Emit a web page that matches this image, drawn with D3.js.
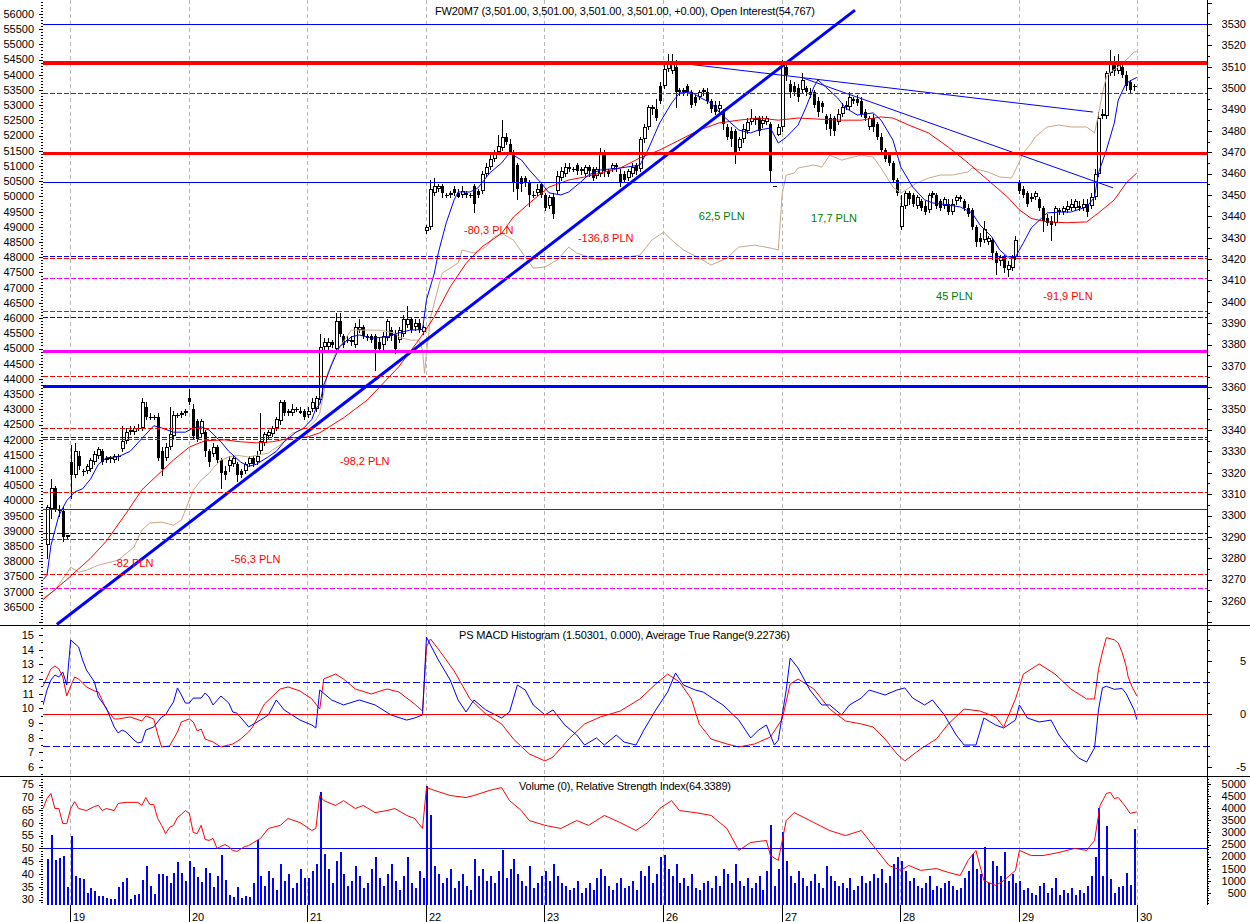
<!DOCTYPE html>
<html><head><meta charset="utf-8">
<script src="https://cdn.jsdelivr.net/npm/d3@7"></script>
<style>
body{margin:0;background:#fff;}
svg{display:block;}
text{font-family:"Liberation Sans",Arial,sans-serif;font-size:11px;fill:#000;}
</style></head><body>
<svg id="c" width="1250" height="922"></svg>
<script>
// ---------------- DATA ----------------
const dayLabels = ["19","20","21","22","23","26","27","28","29","30"];
const dayStart = [6,36,66,96,126,156,186,216,246,276];

// OHLC per bar [open, high, low, close]
const candlesPre = [[3286,3305,3280,3304],[3303,3317,3299,3313],[3313,3314,3302,3303],[3303,3305,3300,3302],[3302,3304,3288,3290],[3290,3291,3289,3291]];
const candles19 = [[3325,3333,3308,3319],[3319,3334,3318,3330],[3328,3330,3322,3323],[3321,3322,3319,3321],[3321,3324,3320,3323],
[3322,3327,3321,3326],[3325,3330,3324,3329],[3328,3332,3327,3331],[3330,3331,3324,3325],[3326,3328,3325,3327],
[3327,3328,3325,3327],[3326,3329,3325,3328],[3328,3329,3326,3328],[3331,3342,3330,3335],[3335,3341,3334,3339],
[3339,3342,3338,3340],[3339,3342,3338,3341],[3341,3343,3340,3341],[3341,3355,3340,3353],[3351,3353,3345,3346],
[3346,3348,3345,3346],[3346,3347,3345,3346],[3346,3348,3326,3327],[3330,3332,3319,3322],[3327,3334,3326,3332],
[3332,3351,3331,3338],[3337,3349,3336,3347],[3347,3348,3346,3347],[3347,3349,3346,3348],[3348,3350,3347,3349]];
const candles20 = [[3355,3359,3352,3353],[3350,3352,3336,3337],[3344,3345,3335,3336],[3338,3345,3337,3344],[3339,3340,3328,3330],
[3330,3331,3323,3325],[3329,3334,3328,3332],[3332,3333,3325,3326],[3326,3327,3313,3320],[3321,3323,3317,3319],
[3323,3328,3321,3326],[3324,3328,3323,3327],[3324,3325,3316,3319],[3321,3322,3318,3319],[3321,3325,3320,3324],
[3324,3328,3323,3327],[3327,3328,3323,3324],[3325,3330,3324,3328],[3330,3348,3329,3335],[3334,3339,3333,3338],
[3337,3340,3336,3339],[3338,3342,3337,3341],[3341,3346,3340,3345],[3344,3354,3343,3353],[3353,3354,3347,3348],
[3348,3350,3347,3349],[3348,3352,3347,3350],[3350,3351,3349,3350],[3349,3351,3348,3348],[3349,3350,3345,3346]];
const candles21 = [[3347,3351,3346,3349],[3350,3355,3349,3353],[3350,3356,3349,3355],[3354,3385,3353,3379],[3379,3383,3377,3381],
[3379,3383,3378,3381],[3381,3382,3379,3380],[3378,3395,3377,3391],[3391,3395,3384,3385],[3384,3385,3379,3380],
[3382,3384,3381,3382],[3381,3384,3380,3382],[3380,3390,3379,3388],[3387,3392,3386,3388],[3388,3389,3383,3384],
[3384,3385,3382,3383],[3384,3385,3381,3382],[3384,3385,3368,3378],[3381,3383,3377,3378],[3380,3386,3378,3384],
[3383,3392,3382,3391],[3387,3388,3382,3384],[3385,3387,3376,3378],[3382,3388,3381,3387],[3385,3394,3384,3392],
[3389,3398,3388,3392],[3392,3393,3386,3387],[3388,3392,3387,3390],[3390,3392,3386,3387],[3386,3389,3385,3388]];
const candles22 = [[3433,3436,3432,3435],[3435,3457,3434,3453],[3451,3458,3450,3454],[3453,3455,3452,3454],[3454,3455,3449,3451],
[3450,3451,3449,3450],[3450,3452,3449,3451],[3453,3454,3450,3451],[3451,3453,3449,3449],[3450,3454,3449,3452],
[3451,3452,3449,3450],[3450,3451,3449,3450],[3454,3455,3442,3446],[3452,3453,3449,3450],[3452,3461,3451,3460],
[3460,3465,3459,3463],[3463,3469,3462,3467],[3467,3471,3466,3470],[3470,3478,3469,3473],[3472,3485,3471,3477],
[3477,3479,3474,3475],[3474,3476,3469,3470],[3470,3471,3452,3456],[3464,3465,3448,3453],[3458,3459,3452,3455],
[3458,3459,3454,3456],[3456,3457,3445,3450],[3450,3452,3449,3450],[3451,3455,3450,3453],[3455,3456,3449,3450]];
const candles23 = [[3450,3451,3443,3444],[3445,3450,3444,3449],[3449,3451,3439,3441],[3452,3461,3451,3459],[3458,3463,3457,3461],
[3460,3465,3459,3463],[3463,3465,3461,3462],[3462,3463,3461,3462],[3464,3465,3460,3461],[3461,3463,3460,3462],
[3460,3464,3459,3463],[3463,3464,3459,3461],[3462,3463,3457,3458],[3459,3463,3458,3462],[3460,3472,3459,3470],
[3470,3471,3459,3461],[3461,3462,3459,3460],[3462,3465,3461,3464],[3464,3465,3461,3463],[3460,3462,3454,3456],
[3460,3461,3456,3457],[3458,3462,3457,3461],[3460,3465,3459,3463],[3464,3465,3460,3461],[3462,3477,3461,3476],
[3476,3483,3475,3482],[3482,3492,3481,3491],[3490,3492,3488,3491],[3490,3495,3485,3486],[3501,3503,3493,3494]];
const candles26 = [[3501,3511,3500,3509],[3509,3516,3508,3512],[3508,3516,3507,3512],[3510,3513,3491,3498],[3499,3500,3497,3498],
[3498,3500,3497,3499],[3501,3502,3497,3498],[3498,3499,3491,3492],[3496,3497,3492,3493],[3496,3499,3495,3498],
[3498,3500,3497,3499],[3498,3500,3493,3494],[3494,3495,3489,3490],[3492,3494,3488,3489],[3490,3494,3489,3492],
[3489,3490,3481,3483],[3482,3483,3476,3477],[3480,3482,3473,3476],[3480,3481,3465,3470],[3472,3477,3471,3476],
[3476,3483,3475,3481],[3480,3486,3479,3484],[3484,3490,3483,3486],[3485,3487,3483,3486],[3486,3487,3478,3480],
[3483,3487,3482,3485],[3484,3487,3483,3486],[3483,3484,3456,3461],[3454,3454,3454,3454],[3478,3483,3478,3482]];
const candles27 = [[3482,3513,3480,3511],[3510,3512,3504,3506],[3502,3504,3496,3498],[3501,3503,3497,3498],[3500,3502,3494,3496],
[3499,3507,3498,3504],[3500,3501,3497,3498],[3498,3500,3496,3497],[3498,3499,3491,3492],[3494,3496,3487,3489],
[3493,3494,3489,3491],[3487,3488,3481,3483],[3486,3488,3478,3481],[3486,3487,3478,3480],[3484,3490,3483,3488],
[3488,3493,3487,3491],[3491,3494,3490,3492],[3491,3498,3490,3496],[3495,3496,3493,3494],[3495,3497,3492,3493],
[3494,3496,3487,3488],[3489,3490,3485,3486],[3482,3487,3481,3486],[3486,3488,3480,3482],[3483,3484,3476,3477],
[3477,3479,3470,3471],[3471,3472,3466,3467],[3469,3470,3464,3465],[3465,3466,3456,3457],[3457,3458,3450,3451]];
const candles28 = [[3435,3450,3434,3445],[3445,3452,3444,3451],[3451,3452,3446,3448],[3450,3451,3445,3446],[3445,3450,3444,3449],
[3447,3448,3443,3444],[3445,3447,3441,3442],[3443,3451,3442,3450],[3450,3452,3449,3451],[3450,3451,3444,3445],
[3447,3448,3443,3444],[3445,3449,3444,3448],[3446,3448,3441,3442],[3442,3448,3441,3446],[3447,3450,3446,3449],
[3449,3450,3447,3448],[3447,3448,3443,3444],[3444,3446,3440,3441],[3443,3444,3434,3435],[3435,3436,3426,3428],
[3430,3432,3426,3428],[3429,3438,3428,3434],[3428,3431,3427,3430],[3429,3430,3420,3423],[3423,3424,3413,3418],
[3419,3422,3417,3421],[3421,3422,3414,3416],[3415,3419,3412,3417],[3416,3422,3415,3421],[3421,3431,3420,3429]];
const candles29 = [[3456,3457,3451,3452],[3453,3454,3449,3450],[3451,3452,3445,3446],[3448,3451,3447,3449],[3449,3452,3448,3451],
[3448,3449,3443,3444],[3444,3445,3433,3438],[3439,3441,3436,3437],[3438,3440,3429,3436],[3437,3445,3436,3444],
[3443,3444,3441,3442],[3442,3445,3441,3444],[3443,3447,3442,3445],[3444,3448,3443,3446],[3444,3448,3443,3447],
[3445,3447,3443,3444],[3444,3448,3443,3446],[3446,3448,3440,3442],[3445,3451,3444,3449],[3449,3462,3448,3460],
[3460,3489,3459,3486],[3487,3490,3486,3488],[3487,3508,3486,3507],[3507,3518,3506,3512],[3511,3515,3506,3508],
[3508,3516,3507,3511],[3510,3512,3505,3506],[3506,3508,3499,3501],[3503,3504,3498,3499],[3501,3502,3499,3501]];

// volume per bar
const volPre = [1900,2890,1860,1940,2020,740];
const vol19 = [2850,1200,1110,1070,500,700,580,370,370,290,250,250,740,950,1110,250,410,450,1030,1610,780,450,1280,1280,1200,910,1320,1780,1320,990];
const vol20 = [1820,1570,1160,950,1530,1320,740,1200,2060,1030,410,330,740,290,370,330,900,2680,1200,800,1400,1100,600,1700,1000,1300,700,900,1500,1100];
const vol21 = [1100,1400,1700,4660,2100,1500,900,1800,2200,1300,800,1000,1600,1200,700,900,1500,2000,1100,800,1300,1700,1000,600,1200,2000,900,700,1400,1100];
const vol22 = [4900,3700,1600,1300,900,1100,1500,700,1000,1300,800,600,1900,1200,1500,1000,1200,900,1400,2270,1100,1500,1900,1300,1000,800,1600,700,900,1200];
const vol23 = [1400,1000,1700,1200,900,800,600,700,1000,500,700,900,600,1100,1500,1200,800,600,900,1100,700,800,1000,600,1400,1200,1600,900,1300,2000];
const vol26 = [2060,1500,1200,1700,900,1100,800,1300,700,600,900,1000,700,1200,800,1500,1300,900,1700,1000,800,1100,700,900,1200,600,1400,3300,800,1500];
const vol27 = [3000,1800,1200,900,1400,1100,800,1000,1300,900,700,1600,1200,1000,800,900,700,1100,600,800,1200,900,1000,1300,1100,1500,900,1200,1700,2000];
const vol28 = [1800,1400,1000,1100,800,700,900,1200,600,800,700,900,1000,800,600,700,1100,1400,2100,1500,1300,2400,900,1800,1600,1200,2200,1000,1300,900];
const vol29 = [1000,600,700,500,400,800,900,500,700,1100,400,600,500,700,400,600,500,800,1200,2000,4000,1200,3260,1070,500,740,780,1320,820,3140];

// line series: [bar index, value]
const fastMA = [[-1,3270],[0,3272],[1,3286],[3,3300],[5,3307],[7,3311],[9,3312.5],[11,3317],[13,3324],[15,3327],[18,3327.5],[21,3330],[24,3336],[27,3342],[29,3341],[32,3339],[35,3339],[37,3341],[39,3341.5],[41,3340],[44,3334.5],[46,3330],[49,3325],[51,3323],[53,3324],[56,3327.5],[58,3330],[60,3334.5],[63,3339],[65,3341],[67,3345],[68,3350],[69,3352],[70,3361],[72,3370.5],[74,3379],[77,3383.6],[79,3384.5],[82,3383],[86,3383.6],[89,3385.5],[92,3386.8],[95,3387],[96,3401],[98,3413.5],[99,3423],[101,3437],[103,3447.7],[104,3451.4],[107,3451.4],[109,3453.3],[112,3460.3],[115,3465],[117,3469.6],[120,3466.4],[122,3461.7],[125,3455.6],[127,3451],[130,3450],[132,3451.4],[135,3456],[137,3459.4],[140,3461.7],[145,3462.6],[150,3464],[152,3471],[155,3483.7],[158,3493],[160,3497.7],[163,3498.2],[165,3495.8],[168,3493],[170,3488.8],[173,3483.7],[175,3480.4],[178,3479],[180,3480.4],[183,3481.3],[185,3474.3],[187,3477],[190,3482.7],[192,3491],[194,3500.5],[195,3503.8],[197,3500.5],[200,3495.4],[202,3490.7],[205,3487.4],[209,3488.4],[211,3485],[214,3475.7],[216,3463],[219,3453.7],[222,3447.7],[224,3446.3],[228,3445.3],[231,3444.4],[234,3441.6],[236,3436],[239,3430.4],[241,3424.3],[243,3421],[245,3421],[247,3427.6],[249,3434.6],[253,3441.6],[256,3442],[259,3442],[263,3444.4],[265,3449],[266,3460.3],[268,3471],[270,3483.7],[271,3494.4],[273,3502.4],[275.7,3505]];
const slowMA = [[-1,3260.6],[5,3270],[8,3275],[11,3280],[15,3288],[20,3301],[24,3312],[28,3319],[32,3326],[36,3332],[40,3335],[45,3335.4],[49,3334.5],[53,3334],[57,3334.5],[62,3336.4],[66,3336.8],[69,3338.7],[75,3345.7],[81,3354],[89,3369.6],[94,3382],[98,3393],[102,3407],[106,3418],[110,3425.7],[115,3432],[118,3439.7],[123,3447.7],[127,3453.7],[132,3457],[136,3458.4],[140,3460.3],[145,3462.6],[150,3467.3],[155,3471],[160,3475.7],[165,3480.4],[170,3483.7],[175,3485],[180,3486],[185,3485],[190,3486],[195,3485.5],[201,3485],[206,3485],[211,3486.5],[214,3486],[218,3482.7],[223,3479],[228,3472.4],[233,3465],[238,3457],[243,3449],[246,3443],[249,3439],[253,3437.4],[258,3437],[263,3437.4],[266,3441.6],[270,3447.7],[273,3455.6],[275.7,3460.3]];
const openInterest = [[-1,36790],[2,37050],[5,37610],[6,37810],[8,37645],[10,37710],[13,37875],[18,38040],[22,38470],[24,39030],[26,39260],[29,39290],[32,39190],[34,39355],[35,39685],[37,40340],[39,40670],[41,40900],[42,41065],[44,41330],[46,41430],[48,41490],[51,41430],[53,41490],[56,41560],[57,41660],[59,41820],[62,42220],[63,42250],[66,42410],[68,42645],[69,42875],[71,44190],[73,44850],[77,45605],[81,45605],[84,45605],[88,45510],[89,45375],[92,45275],[94,45275],[95,44950],[95.5,44190],[96,44850],[97,46000],[99,47020],[100,47480],[104,47810],[105,48240],[108,48140],[111,48335],[113,48665],[115,48795],[118,48565],[121,48005],[123,47645],[126,47680],[129,47910],[132,48335],[134,48140],[137,48005],[140,47910],[145,47975],[150,48070],[153,48565],[156,48830],[158,48565],[161,48240],[165,47975],[168,47745],[172,47975],[175,48335],[179,48400],[183,48305],[185,48240],[186,50110],[187,50700],[189,50770],[190,50935],[194,51035],[196,50965],[198,51360],[201,51195],[204,51295],[206,51360],[209,51295],[211,50935],[214,50310],[216,50110],[218,50275],[220,50440],[223,50605],[226,50705],[229,50705],[233,50805],[234,50935],[238,50805],[241,50640],[244,50605],[245,50870],[247,51430],[249,51755],[250,51955],[253,52285],[256,52350],[259,52285],[263,52285],[265,52085],[266,52700],[267,53400],[268,53930],[269,54090],[271,54255],[273,54490],[275,54750],[275.7,54767]];
const atr = [[-1,10.23],[0,11.25],[1,11.93],[2,12.27],[3,12.14],[4,12.48],[5,11.59],[6,14.66],[8,14.18],[9,13.3],[10,12.61],[12,11.8],[13,10.77],[15,10.02],[17,8.73],[18,8.32],[19,8.52],[20,8.39],[22,7.84],[23,7.64],[24,7.71],[25,8.52],[27,8.73],[29,9.41],[30,9.55],[31,10.02],[32,10.43],[33,11.39],[34,10.91],[35,10.36],[36,10.36],[37,10.7],[39,10.7],[40,11.05],[41,10.77],[42,10.23],[44,10.84],[46,10.36],[47,9.75],[48,9.68],[50,9.07],[51,8.73],[54,9.2],[56,9.55],[58,10.57],[60,9.89],[64,9.2],[67,8.86],[68,8.66],[69,11.25],[72,10.57],[75,10.23],[79,10.57],[83,10.23],[87,9.55],[91,9.2],[93,9.34],[95,9.55],[96,14.86],[97,14.32],[99,13.3],[102,11.93],[104,10.57],[106,9.75],[108,10.57],[111,9.89],[115,9.34],[117,9.75],[119,11.59],[121,11.25],[123,10.23],[126,9.55],[128,9.89],[131,8.86],[134,8.18],[136,7.5],[139,7.98],[141,7.5],[144,8.18],[146,7.7],[149,7.5],[151,8.52],[154,9.89],[157,11.11],[159,12.41],[161,11.59],[164,11.25],[166,11.11],[169,10.57],[171,10.23],[175,9.2],[178,7.98],[180,8.52],[182,8.86],[184,7.5],[185,7.84],[187,11.25],[188,13.43],[190,12.75],[193,11.25],[196,10.23],[198,10.23],[201,9.55],[203,10.23],[206,10.7],[208,11.25],[212,10.91],[215,11.25],[217,11.39],[219,10.7],[222,10.23],[224,10.57],[227,9.55],[230,8.18],[232,7.5],[235,7.5],[237,9.34],[240,8.86],[242,8.66],[245,9.2],[246,10.23],[248,9.34],[251,9.07],[254,9.2],[256,8.18],[259,7.16],[261,6.61],[263,6.34],[265,7.3],[266,9.9],[267,11.4],[268,11.5],[270,11.3],[272,11.35],[273,11.0],[275,9.9],[275.7,9.23]];
const macdHist = [[-1,2.64],[1,4.25],[2,4.53],[3,4.25],[4,3.49],[5,1.7],[6,2.64],[7,3.49],[8,3.3],[10,2.55],[12,2.17],[13,2.08],[15,0.47],[17,-0.47],[18,-0.47],[21,-0.28],[24,-0.66],[25,-0.19],[27,-0.47],[28,-1.89],[29,-3.11],[31,-3.02],[33,-1.7],[34,-0.75],[36,-0.47],[37,-0.75],[38,-1.6],[39,-1.42],[40,-2.36],[42,-2.64],[44,-3.11],[46,-2.92],[47,-2.83],[49,-2.36],[51,-1.7],[52,-1.23],[55,0.94],[59,2.36],[61,2.55],[64,2.17],[67,1.42],[69,0.47],[70,3.3],[73,3.77],[75,3.3],[78,2.36],[82,1.89],[86,2.36],[89,2.08],[93,0.94],[95,0.28],[96,6.32],[97,7.08],[99,6.13],[103,4.06],[107,1.42],[111,0],[115,-0.94],[118,-2.36],[122,-3.77],[126,-4.43],[128,-4.06],[132,-2.36],[136,-0.94],[140,-0.28],[145,0.28],[150,1.42],[154,2.83],[157,3.77],[160,3.02],[163,1.42],[165,-0.94],[168,-2.36],[172,-2.83],[175,-3.11],[179,-2.83],[183,-2.17],[186,-0.47],[188,2.83],[190,3.3],[194,2.36],[198,0.47],[202,-0.66],[206,-0.94],[209,-1.23],[212,-2.36],[215,-3.77],[217,-4.43],[221,-3.3],[225,-2.36],[228,-0.94],[232,0.47],[236,0.28],[240,-0.28],[242,-1.23],[245,1.42],[247,3.77],[251,4.72],[255,3.77],[259,2.36],[263,1.42],[265,1.42],[266,4.2],[267,5.85],[268,7.2],[270,7.0],[271,6.7],[272,5.8],[273,4.5],[273.5,3.5],[274.5,2.55],[275.7,1.7]];
const rsi = [[-1,65.6],[0,69.5],[1,71.5],[2,65.6],[3,65.6],[4,59.7],[5,59.7],[6,65.6],[7,68.3],[8,65.6],[10,64.8],[12,66.4],[13,66.8],[14,64.8],[15,65.6],[17,64.8],[18,67.6],[20,68.0],[23,68.0],[24,66.8],[25,69.9],[26,67.2],[27,67.2],[28,61.7],[29,59.0],[30,55.8],[31,58.2],[32,59.0],[33,62.1],[34,63.3],[35,64.8],[36,63.7],[37,56.2],[38,55.8],[39,59.0],[40,53.5],[41,53.1],[42,53.9],[43,50.0],[45,51.5],[46,50.7],[47,49.2],[48,48.8],[50,50.7],[51,51.1],[54,53.9],[56,57.8],[59,59.0],[61,61.7],[64,60.1],[67,57.0],[68,57.8],[69,70.7],[70,68.7],[73,66.8],[75,68.7],[78,65.6],[80,66.8],[83,64.0],[86,64.8],[88,65.6],[91,62.9],[93,61.7],[95,57.8],[96,73.8],[98,72.7],[102,70.7],[106,69.9],[108,70.7],[112,72.7],[115,73.8],[117,68.7],[120,64.8],[122,60.9],[126,59.0],[130,57.8],[134,60.9],[137,59.0],[141,62.9],[145,60.1],[149,57.0],[152,60.1],[155,65.6],[158,68.7],[160,64.8],[164,64.0],[168,62.9],[172,57.8],[175,49.2],[178,52.3],[182,53.1],[183,47.2],[185,45.3],[187,60.9],[189,64.0],[192,61.7],[194,60.1],[198,57.0],[202,55.0],[206,57.0],[209,51.1],[213,43.3],[216,41.4],[218,43.3],[221,41.4],[225,42.1],[228,40.6],[231,39.4],[233,45.3],[235,49.2],[237,37.4],[240,35.5],[242,37.4],[245,41.4],[246,49.2],[249,47.2],[252,47.2],[256,48.4],[260,50.0],[263,49.2],[265,53.1],[266.4,66.8],[268,71.5],[269,71.9],[270,69.5],[271,69.9],[272,68.0],[273,66.0],[274,63.7],[275.7,64.3]];

// drawn trend lines: [[bar, price],[bar, price]]
const trendMain = [[2.5,3249],[204.4,3536.5]];
const trendA = [[161.9,3511.3],[264.6,3488.8]];
const trendB = [[191.3,3504.7],[269.7,3453.3]];

// horizontal price levels
const levelRedThick = [3511.75, 3469.6];
const levelBlueThin = [3530, 3456.07];
const levelBlueThick = [3360.6];
const levelMagentaThick = [3376.98];
const levelGreenSolid = [3303.05];
const levelRedDash = [3420.5, 3395.7, 3365.28, 3340.95, 3311, 3272.63];
const levelBlueDash = [3421.44, 3392.9, 3336.74, 3291.82];
const levelGreenDash = [3497.71, 3335.8, 3289];
const levelMagentaDash = [3411.14, 3266.08];
const macdBands = [3, -3];
const rsiMid = [50];

// PLN annotations: [bar, price, text, kind]
const notes = [[16.7,3277.8,"-82 PLN","loss"],[46.5,3279.7,"-56,3 PLN","loss"],[74.1,3325.5,"-98,2 PLN","loss"],
[105.5,3433.6,"-80,3 PLN","loss"],[134.3,3429.9,"-136,8 PLN","loss"],[164.9,3440.2,"62,5 PLN","gain"],
[193.3,3439.2,"17,7 PLN","gain"],[224.9,3402.7,"45 PLN","gain"],[252,3402.7,"-91,9 PLN","loss"]];

// axis label ranges
const oiLabels = d3.range(36500, 56001, 500);
const priceLabels = d3.range(3260, 3531, 10);
const atrLabels = d3.range(6, 16, 1);
const macdLabels = [-5, 0, 5];
const rsiLabels = d3.range(30, 76, 5);
const volLabels = d3.range(500, 5001, 500);

const mainTitle = "FW20M7 (3,501.00, 3,501.00, 3,501.00, 3,501.00, +0.00), Open Interest(54,767)";
const macdTitle = "PS MACD Histogram (1.50301, 0.000), Average True Range(9.22736)";
const volTitle = "Volume (0), Relative Strength Index(64.3389)";

// ---------------- CHART ----------------
const candles = [].concat(candlesPre,candles19,candles20,candles21,candles22,candles23,candles26,candles27,candles28,candles29);
const volume = [].concat(volPre,vol19,vol20,vol21,vol22,vol23,vol26,vol27,vol28,vol29);

const svg = d3.select("#c");
const PL = 43, PR = 1207;
const P1 = [0,625], P2 = [625,776], P3 = [776,905];
const BAR = 3.953, X0 = 47;
const x = d3.scaleLinear().domain([0,275]).range([X0, X0+275*BAR]);
const yP = d3.scaleLinear().domain([3260,3530]).range([601,24]);
const yOI = d3.scaleLinear().domain([36500,56000]).range([607,14]);
const yATR = d3.scaleLinear().domain([6,15]).range([767,635]);
const yM = d3.scaleLinear().domain([-5,5]).range([767,661]);
const yR = d3.scaleLinear().domain([30,75]).range([899.5,784.5]);
const yV = d3.scaleLinear().domain([0,5000]).range([905,784]);

const defs = svg.append("defs");
[["cMain",P1],["cMacd",P2],["cVol",P3]].forEach(([id,p])=>{
  defs.append("clipPath").attr("id",id).append("rect").attr("x",PL).attr("y",p[0]).attr("width",PR-PL).attr("height",p[1]-p[0]);
});

// dashed line drawn as explicit 1px segments
function dashH(g, yy, x0, x1, on, off, color){
  const starts = d3.range(x0, x1, on+off);
  g.selectAll(null).data(starts).enter().append("rect")
    .attr("x", s=>s).attr("y", yy).attr("width", s=>Math.min(on, x1-s)).attr("height",1).attr("fill",color);
}
function dashV(g, xx, y0, y1, on, off, color){
  const starts = d3.range(y0, y1, on+off);
  g.selectAll(null).data(starts).enter().append("rect")
    .attr("x", xx).attr("y", s=>s).attr("width",1).attr("height", s=>Math.min(on, y1-s)).attr("fill",color);
}

// day gridlines
const grid = svg.append("g").attr("shape-rendering","crispEdges");
dayStart.forEach(i=>{
  dashV(grid, Math.round(x(i)-0.7), 0, 905, 4, 3, "#b8b8b8");
});

// candles
const gc = svg.append("g").attr("clip-path","url(#cMain)").attr("shape-rendering","crispEdges");
candles.forEach((d,i)=>{
  const [o,h,l,c] = d;
  const cx = Math.round(x(i));
  gc.append("line").attr("x1",cx+0.5).attr("x2",cx+0.5).attr("y1",Math.round(yP(h))).attr("y2",Math.round(yP(l))+1).attr("stroke","#000");
  const top = Math.round(yP(Math.max(o,c))), bot = Math.round(yP(Math.min(o,c)));
  if (bot-top < 2) {
    gc.append("rect").attr("x",cx-1).attr("y",top).attr("width",4).attr("height",Math.max(1,bot-top)).attr("fill","#000");
  } else if (c > o) {
    gc.append("rect").attr("x",cx-0.5).attr("y",top+0.5).attr("width",3).attr("height",bot-top-1)
      .attr("fill","#fff").attr("stroke","#000").attr("stroke-width",1);
  } else {
    gc.append("rect").attr("x",cx-1).attr("y",top).attr("width",3).attr("height",bot-top).attr("fill","#000");
  }
});

// volume bars
const gv = svg.append("g").attr("clip-path","url(#cVol)").attr("shape-rendering","crispEdges");
volume.forEach((v,i)=>{
  const cx = Math.round(x(i));
  gv.append("rect").attr("x",cx).attr("y",Math.round(yV(v))).attr("width",2).attr("height",905-Math.round(yV(v))).attr("fill","#0000ff");
});

// helper for lines
function drawLine(g, data, ys, color, width){
  g.append("path").datum(data).attr("fill","none").attr("stroke",color).attr("stroke-width",width)
    .attr("d", d3.line().x(d=>x(d[0])).y(d=>ys(d[1])));
}
const gm = svg.append("g").attr("clip-path","url(#cMain)");
drawLine(gm, openInterest, yOI, "#c8a888", 1);
drawLine(gm, slowMA, yP, "#ff0000", 1);
drawLine(gm, fastMA, yP, "#0000ff", 1);

// horizontal levels (row-aligned)
const gh = svg.append("g").attr("shape-rendering","crispEdges");
function hl(vals, color, w){
  vals.forEach(v=>{
    const yy = Math.round(yP(v)) - Math.floor(w/2);
    gh.append("rect").attr("x",PL).attr("y",yy).attr("width",PR-PL).attr("height",w).attr("fill",color);
  });
}
function hlDash(vals, color){
  vals.forEach(v=> dashH(gh, Math.round(yP(v)), PL, PR, 5, 2, color));
}
hl(levelBlueThin, "#0000ff", 1);
hl(levelGreenSolid, "#006400", 1);
hlDash(levelRedDash, "#ff0000");
hlDash(levelBlueDash, "#0000ff");
hlDash(levelGreenDash, "#007000");
hlDash(levelMagentaDash, "#ff00ff");
hl(levelRedThick.slice(0,1), "#ff0000", 4);
hl(levelRedThick.slice(1), "#ff0000", 3);
hl(levelMagentaThick, "#ff00ff", 3);
hl(levelBlueThick, "#0000ff", 3);

// trend lines
drawLine(gm, trendMain, yP, "#0000ff", 3);
drawLine(gm, trendA, yP, "#0000ff", 1);
drawLine(gm, trendB, yP, "#0000ff", 1);

// annotations
notes.forEach(n=>{
  svg.append("text").attr("x",x(n[0])).attr("y",yP(n[1])).attr("dy","0.35em")
    .style("fill", n[3]==="gain" ? "#008000" : "#ff0000").text(n[2]);
});

// MACD panel
const g2 = svg.append("g").attr("clip-path","url(#cMacd)");
const g2h = svg.append("g").attr("shape-rendering","crispEdges");
g2h.append("rect").attr("x",PL).attr("y",Math.round(yM(0))).attr("width",PR-PL).attr("height",1).attr("fill","#ff0000");
macdBands.forEach(v=> dashH(g2h, Math.round(yM(v)), PL, PR, 7, 3, "#0000ff"));
drawLine(g2, macdHist, yM, "#ff0000", 1);
drawLine(g2, atr, yATR, "#0000ff", 1);

// Volume / RSI panel
const g3 = svg.append("g").attr("clip-path","url(#cVol)");
rsiMid.forEach(v=>{
  g2h.append("rect").attr("x",PL).attr("y",Math.round(yR(v))).attr("width",PR-PL).attr("height",1).attr("fill","#0000ff");
});
drawLine(g3, rsi, yR, "#ff0000", 1);

// panel separators and right axis line
const ga = svg.append("g").attr("shape-rendering","crispEdges");
[P1[1],P2[1]].forEach(yy=>{
  ga.append("line").attr("x1",0).attr("x2",1250).attr("y1",yy+0.5).attr("y2",yy+0.5).attr("stroke","#000");
});
ga.append("line").attr("x1",PR+0.5).attr("x2",PR+0.5).attr("y1",0).attr("y2",905).attr("stroke","#000");

// axis helper
function ticks(scale, lo, hi, step, majorEvery, side, lenMajor, lenMinor, yRange, labels){
  const n = Math.round((hi-lo)/step);
  for (let k=0;k<=n;k++){
    const v = lo + k*step;
    const yy = Math.round(scale(v))+0.5;
    if (yy < yRange[0] || yy > yRange[1]) continue;
    const isMajor = Math.abs(Math.round(v/majorEvery)*majorEvery - v) < 1e-6;
    const len = isMajor ? lenMajor : lenMinor;
    const x0 = side==="left" ? PL : PR;
    const x1 = side==="left" ? PL-len : PR+len;
    ga.append("line").attr("x1",x0).attr("x2",x1).attr("y1",yy).attr("y2",yy).attr("stroke","#000");
  }
  labels.forEach(v=>{
    svg.append("text").attr("x", side==="left" ? 34 : 1246).attr("y",scale(v)).attr("dy","0.35em")
      .attr("text-anchor","end").text(v);
  });
}
ticks(yOI, 35900, 56400, 100, 500, "left", 4, 2, [1,624], oiLabels);
ticks(yP, 3250, 3540, 5, 10, "right", 5, 3, [1,624], priceLabels);
ticks(yATR, 5.5, 15.5, 0.5, 1, "left", 4, 2, [627,775], atrLabels);
ticks(yM, -5, 8, 1, 5, "right", 5, 3, [627,775], macdLabels);
ticks(yR, 28, 79, 1, 5, "left", 4, 2, [778,904], rsiLabels);
ticks(yV, 0, 5200, 100, 500, "right", 4, 2, [778,904], volLabels);

// x axis day ticks
dayStart.forEach((i,k)=>{
  const gx = Math.round(x(i)-0.7)+0.5;
  ga.append("line").attr("x1",gx).attr("x2",gx).attr("y1",905).attr("y2",922).attr("stroke","#000");
  svg.append("text").attr("x",gx+2.5).attr("y",921).text(dayLabels[k]);
});

// titles
svg.append("text").attr("x",435).attr("y",15).attr("textLength",380).attr("lengthAdjust","spacing").text(mainTitle);
svg.append("text").attr("x",459).attr("y",639).attr("textLength",331).attr("lengthAdjust","spacing").text(macdTitle);
svg.append("text").attr("x",519).attr("y",790).attr("textLength",212).attr("lengthAdjust","spacing").text(volTitle);
</script>
</body></html>
